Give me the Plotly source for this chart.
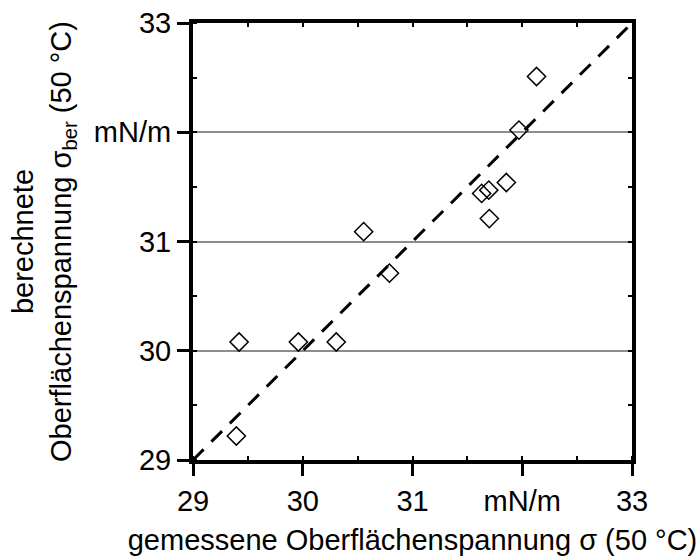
import plotly.graph_objects as go

# measured (x) vs calculated (y) surface tension, mN/m, 50 °C
measured = [29.42, 29.395, 29.96, 30.305, 30.555, 30.79, 31.63, 31.695, 31.70, 31.855, 31.97, 32.13]
calculated = [30.08, 29.22, 30.08, 30.08, 31.09, 30.71, 31.44, 31.47, 31.21, 31.54, 32.02, 32.51]
diagonal = [29, 33]
tick_vals = [29, 30, 31, 32, 33]
tick_text = ["29", "30", "31", "mN/m", "33"]

FONT = "Arial, Liberation Sans, Helvetica, sans-serif"
FS = 29

fig = go.Figure()
fig.add_trace(go.Scatter(x=diagonal, y=diagonal, mode="lines",
                         line=dict(color="black", width=3, dash="15px,11px"),
                         hoverinfo="skip", showlegend=False))
fig.add_trace(go.Scatter(x=measured, y=calculated, mode="markers",
                         marker=dict(symbol="diamond-open", size=14, color="black",
                                     line=dict(width=1.5, color="black")),
                         showlegend=False))
# invisible trace to host the mirrored top/right axes
fig.add_trace(go.Scatter(x=diagonal, y=diagonal, xaxis="x2", yaxis="y2", mode="lines",
                         line=dict(width=0, color="rgba(0,0,0,0)"), hoverinfo="skip",
                         showlegend=False))

axis_common = dict(range=[29, 33], tickvals=tick_vals, ticktext=tick_text,
                   ticks="outside", ticklen=12, tickwidth=3, tickcolor="black",
                   showline=True, linewidth=4, linecolor="black", mirror=True,
                   zeroline=False, automargin=False,
                   minor=dict(ticks="inside", dtick=0.5, tick0=29, ticklen=4,
                              tickwidth=1.5, tickcolor="black", showgrid=False),
                   tickfont=dict(family=FONT, size=FS, color="black"))

fig.update_layout(
    width=696, height=559,
    margin=dict(l=193, r=64, t=23, b=99),
    paper_bgcolor="white", plot_bgcolor="white",
    font=dict(family=FONT, size=FS, color="black"),
    xaxis=dict(**axis_common, showgrid=False,
               title=dict(text="gemessene Oberflächenspannung σ (50 °C)",
                          font=dict(family=FONT, size=FS, color="black"))),
    yaxis=dict(**axis_common, showgrid=True, gridcolor="#8c8c8c", gridwidth=1.5,
               title=dict(text="berechnete<br>Oberflächenspannung σ<sub>ber</sub> (50 °C)",
                          font=dict(family=FONT, size=FS, color="black"))),
    xaxis2=dict(range=[29, 33], overlaying="x", side="top", anchor="y",
                ticks="inside", dtick=0.5, tick0=29, ticklen=4, tickwidth=1.5,
                tickcolor="black", showticklabels=False, showgrid=False, zeroline=False),
    yaxis2=dict(range=[29, 33], overlaying="y", side="right", anchor="x",
                ticks="inside", dtick=0.5, tick0=29, ticklen=4, tickwidth=1.5,
                tickcolor="black", showticklabels=False, showgrid=False, zeroline=False),
)

fig.write_html("out.html")
